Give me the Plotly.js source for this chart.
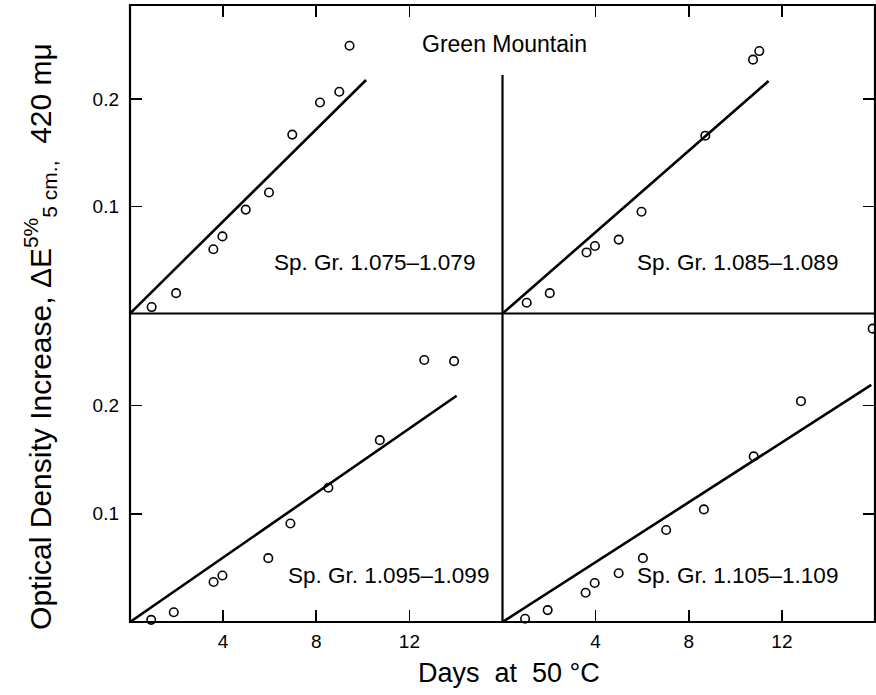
<!DOCTYPE html>
<html>
<head>
<meta charset="utf-8">
<script src="https://cdn.plot.ly/plotly-3.0.1.min.js"></script>
<style>html,body{margin:0;padding:0;background:#fff;}#chart{width:876px;height:695px;}</style>
</head>
<body>
<div id="chart"></div>
<script>
// Days at 50 °C and optical density increase
const tlDays = [0.93, 1.98, 3.58, 3.97, 4.97, 5.97, 6.97, 8.16, 8.99, 9.43];
const tlOD   = [0.006, 0.019, 0.060, 0.072, 0.097, 0.113, 0.167, 0.197, 0.207, 0.250];
const tlFitDays = [0, 10.14];
const tlFitOD   = [0, 0.218];

const trDays = [1.04, 2.03, 3.61, 3.97, 4.99, 5.97, 8.71, 10.76, 11.03];
const trOD   = [0.010, 0.019, 0.057, 0.063, 0.069, 0.095, 0.166, 0.237, 0.245];
const trFitDays = [0, 11.43];
const trFitOD   = [0, 0.217];

const blDays = [0.91, 1.88, 3.59, 3.97, 5.94, 6.89, 8.52, 10.73, 12.64, 13.92];
const blOD   = [0.002, 0.009, 0.037, 0.043, 0.059, 0.091, 0.124, 0.168, 0.242, 0.241];
const blFitDays = [0, 14.03];
const blFitOD   = [0, 0.209];

const brDays = [0.97, 1.94, 3.57, 3.96, 4.99, 6.03, 7.03, 8.65, 10.79, 12.82, 15.9];
const brOD   = [0.003, 0.011, 0.027, 0.036, 0.045, 0.059, 0.085, 0.104, 0.153, 0.204, 0.271];
const brFitDays = [0, 15.84];
const brFitOD   = [0, 0.219];

const panelLabels = ["Sp. Gr. 1.075\u20131.079", "Sp. Gr. 1.085\u20131.089", "Sp. Gr. 1.095\u20131.099", "Sp. Gr. 1.105\u20131.109"];
const xTickVals = [4, 8, 12];
const xTickText = ["4", "8", "12"];
const yTickVals = [0.1, 0.2];
const yTickText = ["0.1", "0.2"];

const FONT = "Liberation Sans, Arial, sans-serif";
const mk = {symbol: "circle-open", size: 8.5, color: "#000", line: {color: "#000", width: 1.6}};
const ln = {color: "#000", width: 2.6};

function pts(x, y, xa, ya) {
  return {x: x, y: y, xaxis: xa, yaxis: ya, type: "scatter", mode: "markers", marker: mk, hoverinfo: "skip", cliponaxis: false};
}
function fit(x, y, xa, ya) {
  return {x: x, y: y, xaxis: xa, yaxis: ya, type: "scatter", mode: "lines", line: ln, hoverinfo: "skip"};
}

const data = [
  fit(tlFitDays, tlFitOD, "x", "y"), pts(tlDays, tlOD, "x", "y"),
  fit(trFitDays, trFitOD, "x2", "y2"), pts(trDays, trOD, "x2", "y2"),
  fit(blFitDays, blFitOD, "x3", "y3"), pts(blDays, blOD, "x3", "y3"),
  fit(brFitDays, brFitOD, "x4", "y4"), pts(brDays, brOD, "x4", "y4")
];

const axBase = {showgrid: false, zeroline: false, showline: false, ticks: "inside", ticklen: 12, tickwidth: 1.6, tickcolor: "#000",
  tickfont: {family: FONT, size: 19, color: "#000"}, fixedrange: true};

function lab(x, y, text, size) {
  return {xref: "paper", yref: "paper", x: x, y: y, xanchor: "center", yanchor: "middle", text: text, showarrow: false,
          font: {family: FONT, size: size, color: "#000"}};
}

const layout = {
  width: 876, height: 695,
  margin: {l: 130, r: 1, t: 5, b: 73},
  paper_bgcolor: "#fff", plot_bgcolor: "#fff",
  showlegend: false,
  xaxis:  Object.assign({}, axBase, {domain: [0, 0.5], range: [0, 16], anchor: "y", side: "top", tickvals: xTickVals, showticklabels: false}),
  yaxis:  Object.assign({}, axBase, {domain: [0.5, 1], range: [0, 0.288], anchor: "x", side: "left", tickvals: yTickVals, ticktext: yTickText, ticklabelstandoff: 10}),
  xaxis2: Object.assign({}, axBase, {domain: [0.5, 1], range: [0, 16], anchor: "y2", side: "top", tickvals: [0].concat(xTickVals), showticklabels: false}),
  yaxis2: Object.assign({}, axBase, {domain: [0.5, 1], range: [0, 0.288], anchor: "x2", side: "right", tickvals: yTickVals, showticklabels: false}),
  xaxis3: Object.assign({}, axBase, {domain: [0, 0.5], range: [0, 16], anchor: "y3", side: "bottom", tickvals: xTickVals, ticktext: xTickText, ticklabelstandoff: 6}),
  yaxis3: Object.assign({}, axBase, {domain: [0, 0.5], range: [0, 0.285], anchor: "x3", side: "left", tickvals: yTickVals, ticktext: yTickText, ticklabelstandoff: 10}),
  xaxis4: Object.assign({}, axBase, {domain: [0.5, 1], range: [0, 16], anchor: "y4", side: "bottom", tickvals: xTickVals, ticktext: xTickText, ticklabelstandoff: 6}),
  yaxis4: Object.assign({}, axBase, {domain: [0, 0.5], range: [0, 0.285], anchor: "x4", side: "right", tickvals: yTickVals, showticklabels: false}),
  shapes: [
    {type: "rect", xref: "paper", yref: "paper", x0: 0, x1: 1, y0: 0, y1: 1, line: {color: "#000", width: 2.2}},
    {type: "line", xref: "paper", yref: "paper", x0: 0, x1: 1, y0: 0.5, y1: 0.5, line: {color: "#000", width: 2.2}},
    {type: "line", xref: "paper", yref: "paper", x0: 0.5, x1: 0.5, y0: 0, y1: 0.5, line: {color: "#000", width: 2.2}},
    {type: "line", xref: "paper", yref: "paper", x0: 0.5, x1: 0.5, y0: 0.5, y1: 0.8865, line: {color: "#000", width: 2.2}}
  ],
  annotations: [
    lab(0.503, 0.937, "Green Mountain", 23),
    lab(0.328, 0.582, panelLabels[0], 22.5),
    lab(0.8154, 0.582, panelLabels[1], 22.5),
    lab(0.347, 0.076, panelLabels[2], 22.5),
    lab(0.8154, 0.076, panelLabels[3], 22.5),
    lab(0.509, -0.083, "Days\u00a0 at\u00a0 50 \u00b0C", 27),
    Object.assign(lab(-0.12, 0.463, "Optical Density Increase, \u0394E<sup>5%</sup><sub>5 cm.,</sub>\u00a0 420 m\u03bc", 30), {textangle: -90})
  ]
};

Plotly.newPlot("chart", data, layout, {staticPlot: true, displayModeBar: false});
</script>
</body>
</html>
